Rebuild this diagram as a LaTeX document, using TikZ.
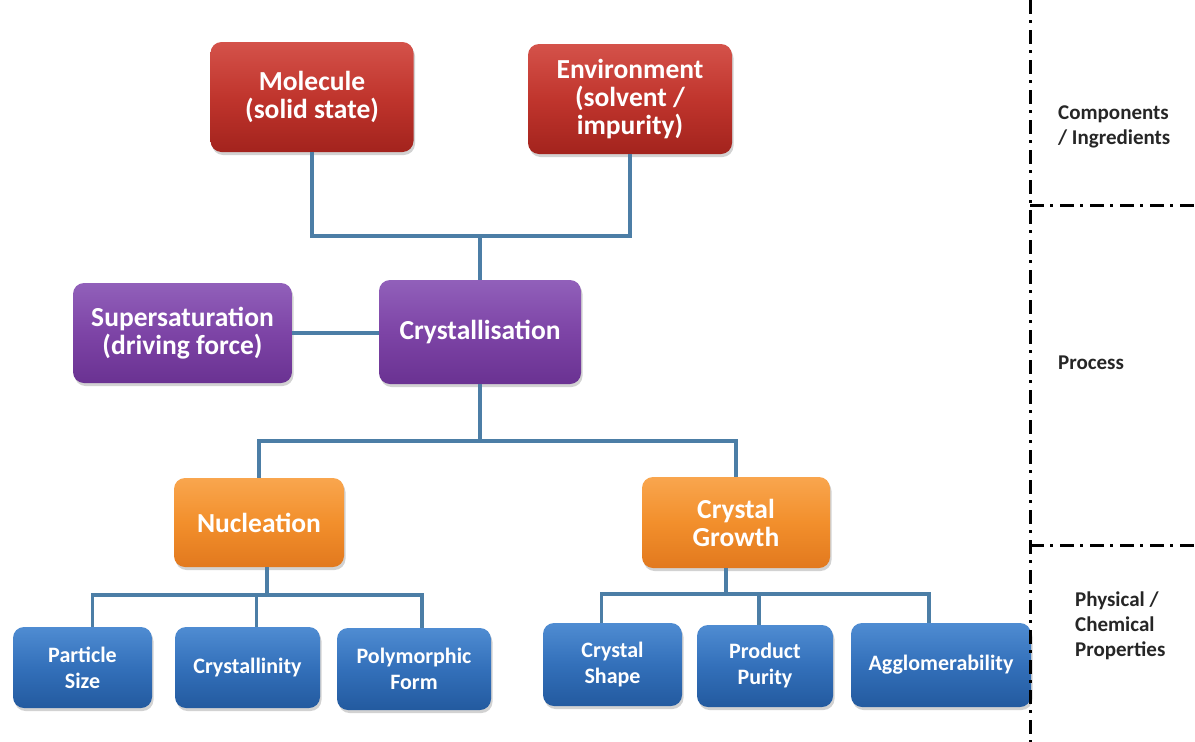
\documentclass[tikz,border=0pt]{standalone}
\usepackage{fontspec}
\setmainfont{Carlito}
\usetikzlibrary{shadows}
\definecolor{conncol}{HTML}{4C7EA6}
\definecolor{redtop}{HTML}{D4524A}
\definecolor{redmid}{HTML}{C0352D}
\definecolor{redbot}{HTML}{A3231D}
\definecolor{purtop}{HTML}{9160BA}
\definecolor{purmid}{HTML}{7D44A6}
\definecolor{purbot}{HTML}{6A3292}
\definecolor{oratop}{HTML}{F9A64E}
\definecolor{oramid}{HTML}{F28F2C}
\definecolor{orabot}{HTML}{E2791E}
\definecolor{blutop}{HTML}{4F8CD2}
\definecolor{blumid}{HTML}{3370BA}
\definecolor{blubot}{HTML}{235A9F}
\begin{document}
\begin{tikzpicture}[x=1pt,y=1pt,
  boxbase/.style={rounded corners=11pt, text=white, align=center, inner sep=0pt,
    drop shadow={opacity=0.35, shadow xshift=1.5pt, shadow yshift=-3pt}},
  bigbox/.style={boxbase, font=\bfseries\fontsize{27.5}{28}\selectfont},
  smallbox/.style={boxbase, font=\bfseries\fontsize{22}{26}\selectfont},
  redbox/.style={top color=redtop, bottom color=redbot, middle color=redmid},
  purplebox/.style={top color=purtop, bottom color=purbot, middle color=purmid},
  orangebox/.style={top color=oratop, bottom color=orabot, middle color=oramid},
  bluebox/.style={top color=blutop, bottom color=blubot, middle color=blumid},
  conn/.style={draw=conncol, line width=3.5pt},
  dashdot/.style={draw=black, line width=3pt, dash pattern=on 14pt off 6pt on 3pt off 7pt},
  sidelabel/.style={anchor=west, align=left, text=black!85, font=\bfseries\fontsize{21}{25}\selectfont, inner sep=0pt}
]
\useasboundingbox (0,0) rectangle (1195,-742);
\fill[white] (0,0) rectangle (1195,-742);

% nodes
\node[bigbox, redbox, minimum width=203pt, minimum height=110pt] (mol) at (312,-97) {Molecule\\(solid state)};
\node[bigbox, redbox, minimum width=204pt, minimum height=110pt] (env) at (630,-99) {Environment\\(solvent /\\impurity)};
\node[bigbox, purplebox, minimum width=219pt, minimum height=100pt] (sup) at (182.5,-333) {Supersaturation\\(driving force)};
\node[bigbox, purplebox, minimum width=202pt, minimum height=104pt] (cry) at (480,-332) {Crystallisation};
\node[bigbox, orangebox, minimum width=170pt, minimum height=89pt] (nuc) at (259,-522.5) {Nucleation};
\node[bigbox, orangebox, minimum width=188pt, minimum height=91pt] (grow) at (736,-522.5) {Crystal\\Growth};
\node[smallbox, bluebox, minimum width=139pt, minimum height=81pt] (ps) at (82.5,-667.5) {Particle\\Size};
\node[smallbox, bluebox, minimum width=145pt, minimum height=81pt] (cl) at (247.5,-667.5) {Crystallinity};
\node[smallbox, bluebox, minimum width=154pt, minimum height=82pt] (pf) at (414,-669) {Polymorphic\\Form};
\node[smallbox, bluebox, minimum width=139pt, minimum height=83pt] (cs) at (612.5,-664.5) {Crystal\\Shape};
\node[smallbox, bluebox, minimum width=136pt, minimum height=82pt] (pp) at (765,-666) {Product\\Purity};
\node[smallbox, bluebox, minimum width=180pt, minimum height=84pt] (ag) at (941,-665) {Agglomerability};

% junctions
\coordinate (j1) at (480,-236);
\coordinate (j2) at (480,-441);
\coordinate (j3) at (267,-595);
\coordinate (j4) at (726,-594);
\coordinate (psa) at ([xshift=10pt]ps.north);
\coordinate (cla) at ([xshift=9pt]cl.north);
\coordinate (pfa) at ([xshift=8pt]pf.north);
\coordinate (csa) at ([xshift=-11pt]cs.north);
\coordinate (ppa) at ([xshift=-6pt]pp.north);
\coordinate (aga) at ([xshift=-12pt]ag.north);

% connectors
\draw[conn] (mol.south) |- (j1) -| (env.south);
\draw[conn] (j1) -- (cry.north);
\draw[conn] (sup.east) -- (sup.east -| cry.west);
\draw[conn] (cry.south) -- (j2);
\draw[conn] (nuc.north) |- (j2) -| (grow.north);
\draw[conn] (j3 |- nuc.south) -- (j3);
\draw[conn] (psa) |- (j3) -| (pfa);
\draw[conn] (cla) -- (cla |- j3);
\draw[conn] (j4 |- grow.south) -- (j4);
\draw[conn] (csa) |- (j4) -| (aga);
\draw[conn] (ppa) -- (ppa |- j4);

% right side divisions
\draw[dashdot] (1030,0) -- (1030,-742);
\draw[dashdot] (1030,-205) -- (1195,-205);
\draw[dashdot] (1030,-545) -- (1195,-545);

\node[sidelabel] (lab1) at (1058,-127) {Components\\/ Ingredients};
\node[sidelabel] (lab2) at (1058,-363) {Process};
\node[sidelabel] (lab3) at (1075,-626) {Physical /\\Chemical\\Properties};
\end{tikzpicture}
\end{document}
